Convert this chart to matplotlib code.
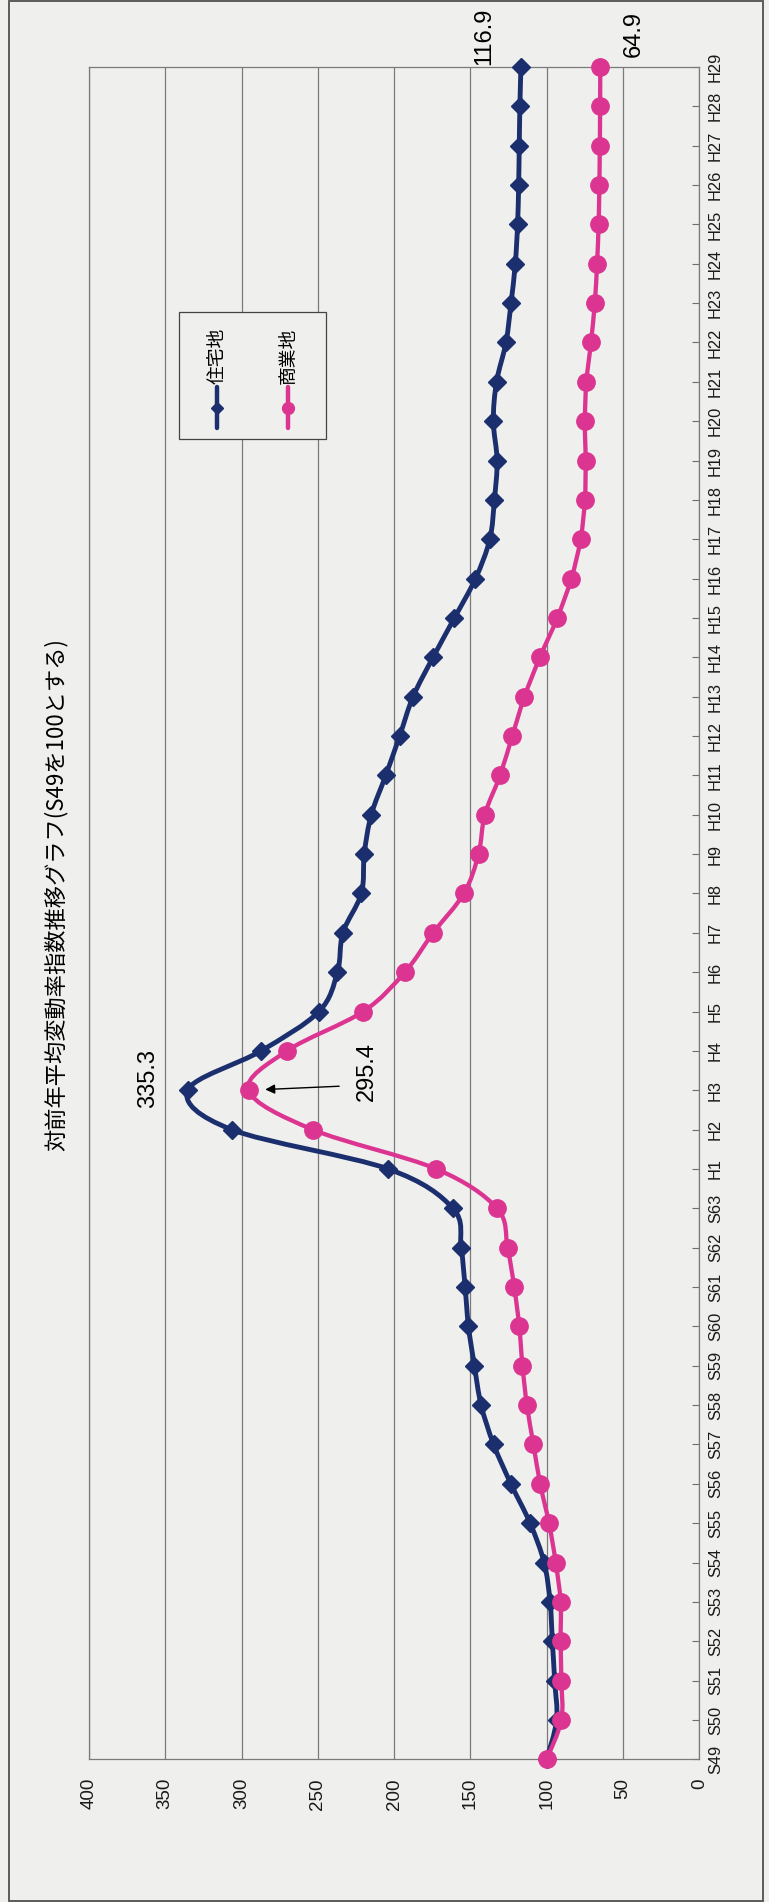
import numpy as np
import matplotlib
matplotlib.use("Agg")
import matplotlib.pyplot as plt
from matplotlib.path import Path
from matplotlib.patches import PathPatch, Rectangle
from matplotlib.lines import Line2D

# data
years = ["S%d" % y for y in range(49, 64)] + ["H%d" % y for y in range(1, 30)]
jutaku = [100.0, 93.5, 94.8, 96.3, 97.8, 101.7, 110.9, 123.5, 134.8, 143.0, 147.4, 151.3, 153.5, 156.1, 161.5,
          203.9, 306.5, 335.3, 287.2, 249.3, 237.2, 233.6, 221.5, 219.6, 215.0,
          205.5, 196.4, 187.6, 174.5, 160.5, 146.7, 137.3, 134.3, 132.5, 135.0,
          132.9, 126.7, 123.4, 120.6, 119.1, 118.4, 118.0, 117.6, 116.9]
shogyo = [100.0, 90.4, 90.4, 90.9, 90.9, 94.1, 98.5, 104.3, 108.7, 113.0, 115.9, 118.0, 121.3, 125.7, 132.6,
          172.4, 253.4, 295.4, 270.3, 220.3, 193.0, 174.4, 154.3, 144.7, 140.6,
          130.6, 122.6, 114.6, 104.5, 93.1, 83.9, 77.8, 75.0, 74.5, 75.0,
          74.0, 71.0, 68.5, 67.0, 66.0, 65.5, 65.2, 65.0, 64.9]
names = ["住宅地", "商業地"]
value_ticks = [0, 50, 100, 150, 200, 250, 300, 350, 400]
title = "対前年平均変動率指数推移グラフ(S49を100とする)"

BG = "#efefed"
BLUE = "#1b2f6e"
PINK = "#dc3591"
CJK = ["Noto Sans CJK JP", "DejaVu Sans"]
NUM = ["Liberation Sans", "DejaVu Sans"]


def smooth_line(ax, xs, ys, color, lw, z):
    # excel-like smoothed line (bezier through the points)
    p = np.column_stack([xs, ys]).astype(float)
    n = len(p)
    verts = [p[0]]
    codes = [Path.MOVETO]
    for i in range(n - 1):
        a = p[max(i - 1, 0)]
        b = p[i]
        c = p[i + 1]
        d = p[min(i + 2, n - 1)]
        verts += [b + (c - a) / 6, c - (d - b) / 6, c]
        codes += [Path.CURVE4] * 3
    patch = PathPatch(Path(verts, codes), fill=False, edgecolor=color, lw=lw,
                      capstyle="round", joinstyle="round", zorder=z, clip_on=False)
    ax.add_patch(patch)


fig = plt.figure(figsize=(7.69, 19.02), dpi=100, facecolor=BG)
ax = fig.add_axes([89 / 769, 1 - 1759.3 / 1902, 610.3 / 769, 1692.3 / 1902])
ax.set_facecolor(BG)

idx = np.arange(len(years))
ax.set_xlim(400, 0)
ax.set_ylim(0, len(years) - 1)

ax.set_xticks(value_ticks)
ax.set_xticklabels([str(v) for v in value_ticks], rotation=90, fontsize=13.5, family=NUM, color="#1a1a1a")
ax.tick_params(axis="x", length=0, pad=13.5)
ax.grid(axis="x", color="#7a7a7a", lw=0.9)
ax.set_axisbelow(True)

ax.yaxis.tick_right()
ax.set_yticks(idx)
ax.set_yticklabels(years, rotation=90, va="center", fontsize=11.8, family=NUM, color="#1a1a1a")
ax.tick_params(axis="y", direction="in", length=5, width=0.8, color="#6f6f6f", pad=6.3)

for s in ax.spines.values():
    s.set_color("#7a7a7a")
    s.set_linewidth(0.9)

# series
smooth_line(ax, jutaku, idx, BLUE, 3.5, 3)
ax.plot(jutaku, idx, ls="none", marker="D", ms=8.8, color=BLUE, mec=BLUE, zorder=4, clip_on=False)
smooth_line(ax, shogyo, idx, PINK, 3.1, 5)
ax.plot(shogyo, idx, ls="none", marker="o", ms=12.5, color=PINK, mec=PINK, zorder=6, clip_on=False)

# peak labels
bp = int(np.argmax(jutaku))
pp = int(np.argmax(shogyo))
ax.annotate("%.1f" % jutaku[bp], xy=(jutaku[bp], bp), xytext=(-28.8, 8.6), textcoords="offset points",
            rotation=90, ha="center", va="center", fontsize=17, family=NUM)
ax.annotate("%.1f" % shogyo[pp], xy=(shogyo[pp], pp), xytext=(85.4, 13.7), textcoords="offset points",
            rotation=90, ha="center", va="center", fontsize=17, family=NUM)
ax.annotate("", xy=(shogyo[pp], pp), xytext=(65.2, 2.9), textcoords="offset points",
            arrowprops=dict(arrowstyle="-|>", color="black", lw=1.0, shrinkA=0, shrinkB=12, mutation_scale=14))

# end labels
ax.annotate("%.1f" % jutaku[-1], xy=(jutaku[-1], idx[-1]), xytext=(-26.2, 22.3), textcoords="offset points",
            rotation=90, ha="center", va="center", fontsize=17, family=NUM, annotation_clip=False)
ax.annotate("%.1f" % shogyo[-1], xy=(shogyo[-1], idx[-1]), xytext=(24.0, 23.8), textcoords="offset points",
            rotation=90, ha="center", va="center", fontsize=17, family=NUM, annotation_clip=False)

# legend (rotated, built by hand)
ax.add_patch(Rectangle((0.1475, 0.7802), 0.2408, 0.075, transform=ax.transAxes,
                       facecolor=BG, edgecolor="#444444", lw=0.9, zorder=7))
for xl, name, col, mk, msz in [(0.2097, names[0], BLUE, "D", 6), (0.3261, names[1], PINK, "o", 8.5)]:
    ax.add_line(Line2D([xl, xl], [0.7867, 0.8109], transform=ax.transAxes, color=col, lw=3.2,
                       solid_capstyle="round", zorder=8))
    ax.add_line(Line2D([xl], [0.7987], transform=ax.transAxes, marker=mk, ms=msz, color=col, zorder=9))
    ax.text(xl, 0.8127, name, transform=ax.transAxes, rotation=90, ha="center", va="bottom",
            fontsize=13.5, family=CJK, zorder=9)

fig.text(56 / 769, 1 - 895 / 1902, title, rotation=90, ha="center", va="center", fontsize=16, family=CJK)

fig.add_artist(Rectangle((9 / 769, 1.3 / 1902), 754 / 769, 1899.4 / 1902, transform=fig.transFigure,
                         fill=False, edgecolor="#505050", lw=1.3))

fig.savefig("out.png", dpi=100, facecolor=BG)
